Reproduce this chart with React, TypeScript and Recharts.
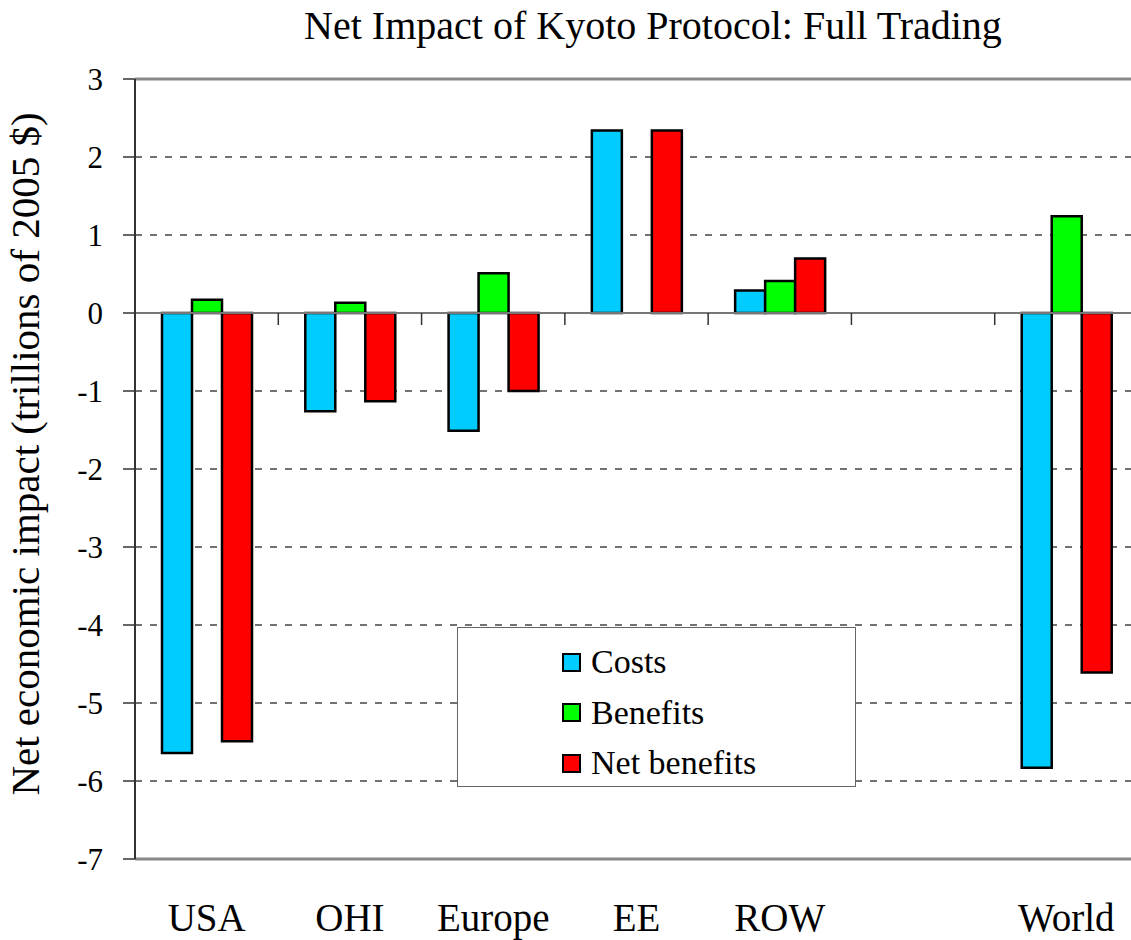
import React from 'react'
import {
  BarChart, Bar, XAxis, YAxis, CartesianGrid, Legend, ReferenceLine, Label,
} from 'recharts'

// regions, with an empty slot before World as in the original
const regions = ['USA', 'OHI', 'Europe', 'EE', 'ROW', '', 'World']
const costs = [-5.64, -1.26, -1.51, 2.34, 0.29, null, -5.83]
const benefits = [0.17, 0.13, 0.51, 0, 0.41, null, 1.24]
const netBenefits = [-5.49, -1.13, -1.0, 2.34, 0.7, null, -4.61]
const yTicks = [-7, -6, -5, -4, -3, -2, -1, 0, 1, 2, 3]

const series = [
  { key: 'costs', name: 'Costs', color: '#00CCFF' },
  { key: 'benefits', name: 'Benefits', color: '#00FF00' },
  { key: 'net', name: 'Net benefits', color: '#FF0000' },
]

const data = regions.map((r, i) => ({
  name: r,
  costs: costs[i],
  benefits: benefits[i],
  net: netBenefits[i],
}))

const FONT = 'Liberation Serif, DejaVu Serif, serif'
const W = 1138
const H = 940
const TOP = 79
const AXIS_W = 135
const XAXIS_H = 81
const Y_MIN = -7
const Y_MAX = 3
const PLOT_W = W - AXIS_W
const PLOT_H = H - TOP - XAXIS_H
const BAND = PLOT_W / regions.length
const ZERO_Y = TOP + (PLOT_H * Y_MAX) / (Y_MAX - Y_MIN)

function RegionTick(props: any) {
  const { x, payload } = props
  const left = x - BAND / 2
  return (
    <g>
      <line x1={left} x2={left} y1={ZERO_Y} y2={ZERO_Y + 12} stroke="#333" strokeWidth={1.5} />
      <text x={x} y={H - 9} textAnchor="middle" fontSize={39} style={{ fontFamily: FONT }} fill="#000">
        {payload.value}
      </text>
    </g>
  )
}

function LegendBox() {
  return (
    <div style={{
      boxSizing: 'border-box', width: 399, height: 160, border: '1.5px solid #666',
      background: '#fff', paddingLeft: 104, paddingTop: 9, fontFamily: FONT,
    }}>
      {series.map(s => (
        <div key={s.key} style={{ display: 'flex', alignItems: 'center', height: 50.5 }}>
          <span style={{
            display: 'inline-block', width: 15, height: 15, border: '2px solid #000',
            background: s.color, marginRight: 10,
          }} />
          <span style={{ fontSize: 34, color: '#000', fontFamily: FONT }}>{s.name}</span>
        </div>
      ))}
    </div>
  )
}

export default function App() {
  return (
    <div style={{
      position: 'absolute', left: 0, top: 0, width: 1131, height: 940,
      overflow: 'hidden', background: '#fff', fontFamily: FONT,
    }}>
      <div style={{
        position: 'absolute', left: 153, top: 6, width: 1000, textAlign: 'center',
        fontSize: 40, lineHeight: '40px', color: '#000', zIndex: 2, fontFamily: FONT,
      }}>
        Net Impact of Kyoto Protocol: Full Trading
      </div>
      <BarChart
        width={W} height={H} data={data}
        margin={{ top: TOP, right: 0, bottom: 0, left: 0 }}
        barSize={30} barGap={0}
        style={{ fontFamily: FONT }}
      >
        <CartesianGrid horizontal vertical={false} stroke="#444" strokeDasharray="7 8" strokeWidth={1.5} />
        <XAxis
          dataKey="name" height={XAXIS_H} axisLine={false} tickLine={false}
          interval={0} tick={<RegionTick />}
        />
        <YAxis
          width={AXIS_W} domain={[Y_MIN, Y_MAX]} ticks={yTicks} interval={0}
          axisLine={{ stroke: '#333', strokeWidth: 2 }}
          tickLine={{ stroke: '#333', strokeWidth: 1.5 }} tickSize={12} tickMargin={20}
          tick={{ fontSize: 31, fill: '#000', style: { fontFamily: FONT } }}
        >
          <Label
            content={() => (
              <text
                x={39} y={454} transform="rotate(-90 39 454)" textAnchor="middle"
                fontSize={41} style={{ fontFamily: FONT }} fill="#000"
              >
                Net economic impact (trillions of 2005 $)
              </text>
            )}
          />
        </YAxis>
        <ReferenceLine y={Y_MAX} stroke="#888" strokeWidth={3} />
        <ReferenceLine y={Y_MIN} stroke="#888" strokeWidth={3} />
        <ReferenceLine y={0} stroke="#777" strokeWidth={2} />
        {series.map(s => (
          <Bar
            key={s.key} dataKey={s.key} name={s.name} fill={s.color}
            stroke="#000" strokeWidth={2.5} isAnimationActive={false}
          />
        ))}
        <Legend
          layout="vertical" align="center" verticalAlign="middle"
          content={<LegendBox />}
          wrapperStyle={{ left: 457, top: 627, width: 399, height: 160 }}
        />
      </BarChart>
    </div>
  )
}
